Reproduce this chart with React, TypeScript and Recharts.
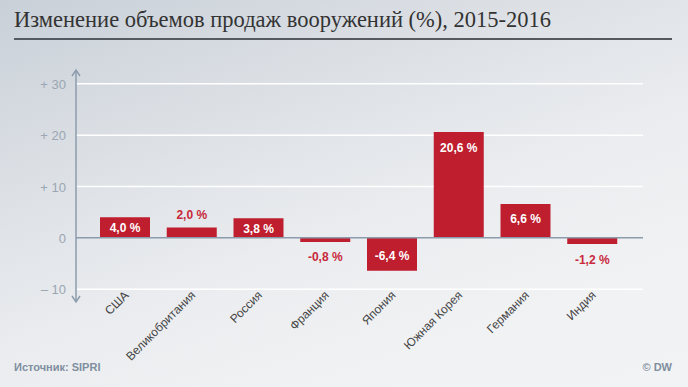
import React from 'react';
import { BarChart, Bar, XAxis, YAxis, ReferenceLine, LabelList, CartesianGrid } from 'recharts';

const categories = ['США', 'Великобритания', 'Россия', 'Франция', 'Япония', 'Южная Корея', 'Германия', 'Индия'];
const values = [4.0, 2.0, 3.8, -0.8, -6.4, 20.6, 6.6, -1.2];
const insideLabel = [true, false, true, false, true, true, true, false];
const yTicks = [-10, 0, 10, 20, 30];
const yTickLabels = ['– 10', '0', '+ 10', '+ 20', '+ 30'];
const yDomain = [-12.5, 32.7];
const gridValues = [-10, 10, 20, 30];

const data = categories.map((name, i) => ({ name, value: values[i], inside: insideLabel[i] }));

const RED = '#be1e2d';
const SANS = '"Liberation Sans", Arial, sans-serif';

const fmt = (v: number) => v.toFixed(1).replace('.', ',') + ' %';

const YTick = (props: any) => {
  const { x, y, payload } = props;
  const v = payload.value;
  const ax = x + 10;
  if (v === yDomain[1]) {
    return <path d={`M${ax - 4},${y + 6} L${ax},${y} L${ax + 4},${y + 6}`} stroke="#8c9bab" strokeWidth={1.5} fill="none" />;
  }
  if (v === yDomain[0]) {
    return <path d={`M${ax - 4},${y - 6} L${ax},${y} L${ax + 4},${y - 6}`} stroke="#8c9bab" strokeWidth={1.5} fill="none" />;
  }
  const idx = yTicks.indexOf(v);
  return (
    <text x={x} y={y} dy={5} textAnchor="end" fill="#9aa6b2" fontSize={13} fontFamily={SANS}>
      {idx >= 0 ? yTickLabels[idx] : v}
    </text>
  );
};

const XTick = (props: any) => {
  const { x, y, payload } = props;
  const tx = x + 4;
  const ty = y - 6;
  return (
    <text x={tx} y={ty} transform={`rotate(-45, ${tx}, ${ty})`} textAnchor="end" fill="#444" fontSize={12} fontFamily={SANS}>
      {payload.value}
    </text>
  );
};

const BarLabel = (props: any) => {
  const { x, y, width, height, value, index } = props;
  const top = Math.min(y, y + height);
  const bottom = Math.max(y, y + height);
  const h = bottom - top;
  const cx = x + width / 2;
  const inside = data[index].inside;
  const pos = value >= 0;
  let cy: number;
  if (inside) {
    cy = pos ? top + Math.min(15, h / 2) : bottom - Math.min(15, h / 2);
  } else {
    cy = pos ? top - 13 : bottom + 15;
  }
  return (
    <text x={cx} y={cy} dy={4.5} textAnchor="middle" fill={inside ? '#ffffff' : '#c8283a'} fontSize={12} fontWeight="bold" fontFamily={SANS}>
      {fmt(value)}
    </text>
  );
};

export default function App() {
  return (
    <div
      style={{
        position: 'absolute',
        left: 0,
        top: 0,
        width: 688,
        height: 387,
        overflow: 'hidden',
        background: 'linear-gradient(160deg, #c9d0d8 0%, #dce0e5 30%, #eaecef 55%, #f1f2f4 80%, #f2f3f5 100%)',
        fontFamily: SANS,
      }}
    >
      <div
        style={{
          position: 'absolute',
          left: 14,
          top: 7,
          fontFamily: '"Liberation Serif", "DejaVu Serif", serif',
          fontSize: 22.5,
          color: '#333',
          whiteSpace: 'nowrap',
        }}
      >
        Изменение объемов продаж вооружений (%), 2015-2016
      </div>
      <div style={{ position: 'absolute', left: 14, top: 38, width: 658, height: 2, background: '#555a60' }} />
      <div style={{ position: 'absolute', left: 0, top: 0 }}>
        <BarChart width={688} height={387} data={data} margin={{ top: 70, right: 45, bottom: 0, left: 8 }}>
          <CartesianGrid vertical={false} horizontalValues={gridValues} stroke="#ffffff" strokeWidth={1.5} />
          <XAxis
            dataKey="name"
            height={85}
            padding={{ left: 16, right: 17 }}
            axisLine={false}
            tickLine={false}
            tickSize={0}
            tickMargin={0}
            interval={0}
            tick={<XTick />}
          />
          <YAxis
            type="number"
            domain={yDomain}
            ticks={[yDomain[0], ...yTicks, yDomain[1]]}
            allowDataOverflow
            interval={0}
            width={68}
            axisLine={{ stroke: '#8c9bab', strokeWidth: 1.5 }}
            tickLine={false}
            tickSize={0}
            tickMargin={10}
            tick={<YTick />}
          />
          <Bar dataKey="value" fill={RED} barSize={50} isAnimationActive={false}>
            <LabelList dataKey="value" content={<BarLabel />} />
          </Bar>
          <ReferenceLine y={0} stroke="#8c9bab" strokeWidth={1.5} />
        </BarChart>
      </div>
      <div style={{ position: 'absolute', left: 14, top: 361, fontSize: 11, fontWeight: 'bold', color: '#7f8fa0' }}>
        Источник: SIPRI
      </div>
      <div style={{ position: 'absolute', right: 16, top: 361, fontSize: 11, fontWeight: 'bold', color: '#7f8fa0' }}>
        © DW
      </div>
    </div>
  );
}
